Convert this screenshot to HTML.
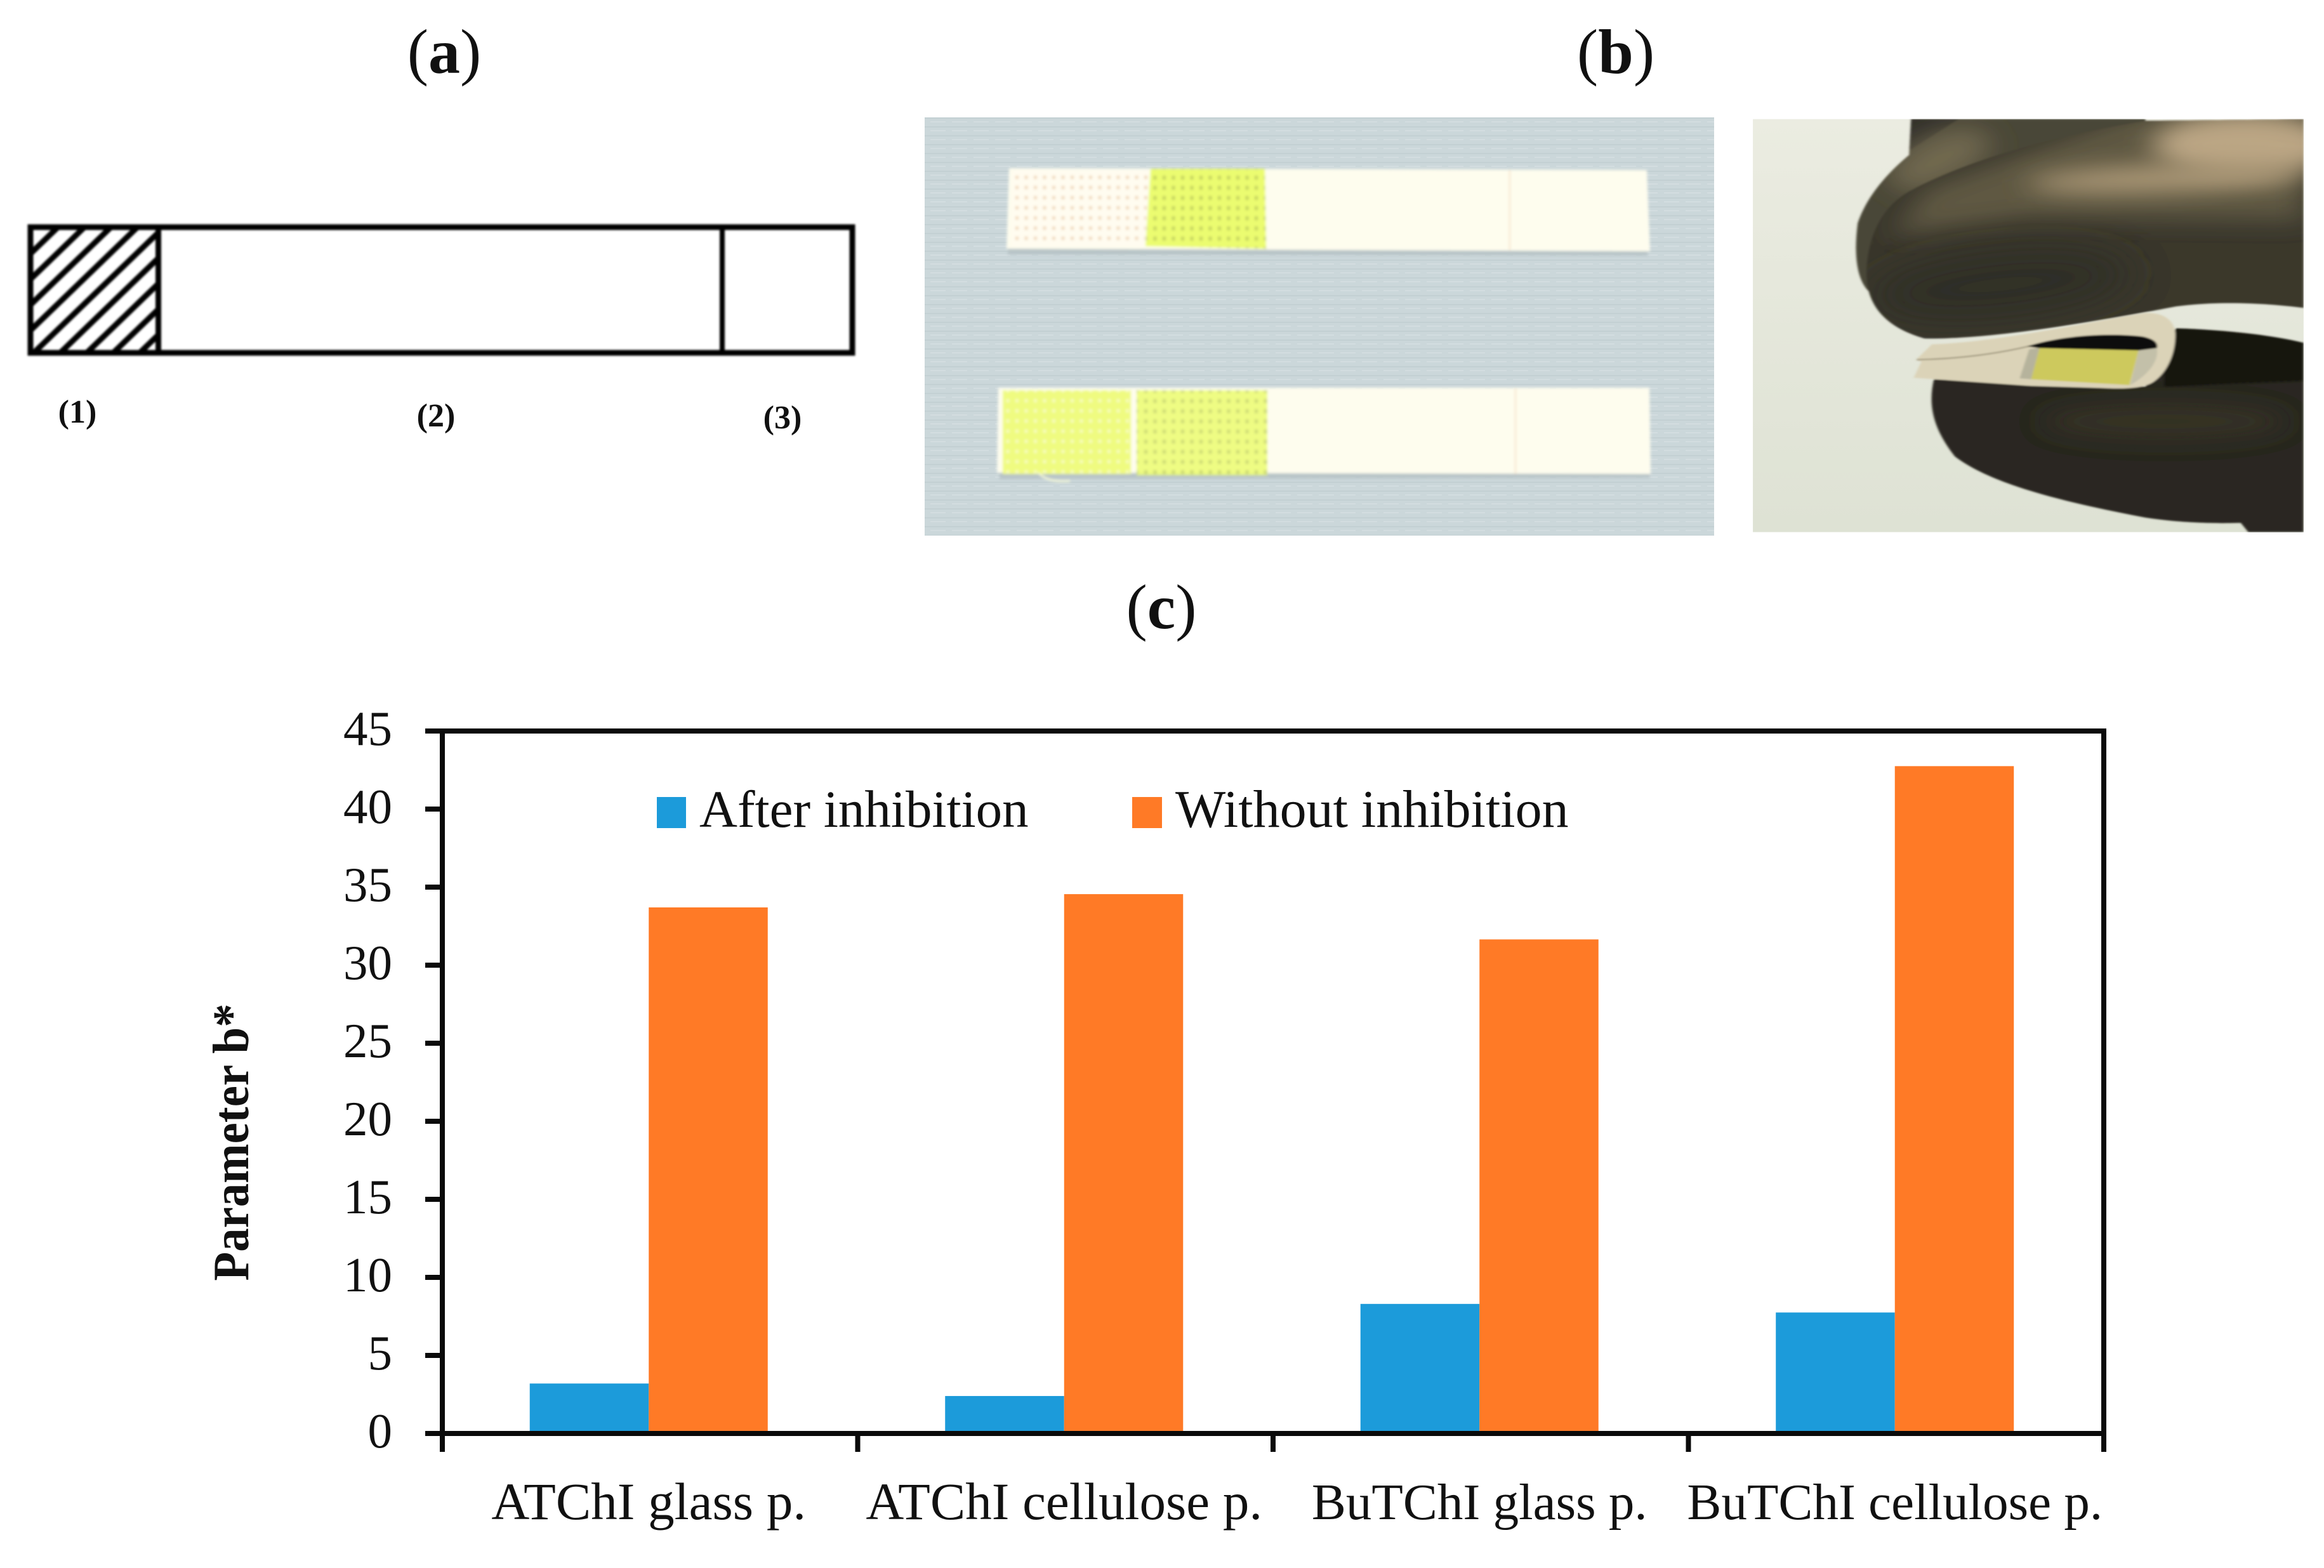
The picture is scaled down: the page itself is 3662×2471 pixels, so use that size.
<!DOCTYPE html>
<html lang="en">
<head>
<meta charset="utf-8">
<title>Test strip schematic, photos and Parameter b* chart</title>
<style>
html,body{margin:0;padding:0;background:#fff;}
svg{display:block;}
text{font-family:"Liberation Serif",serif;fill:#111;}
</style>
</head>
<body>
<svg id="figure" xmlns="http://www.w3.org/2000/svg" width="3662" height="2471" viewBox="0 0 3662 2471">
<defs>
  <pattern id="hatch" width="29" height="29" patternUnits="userSpaceOnUse" patternTransform="translate(53,429) rotate(-44)">
    <rect width="29" height="9" fill="#000"/>
  </pattern>
  <pattern id="linen" width="34" height="14" patternUnits="userSpaceOnUse">
    <rect width="34" height="14" fill="#cbd7da"/>
    <rect y="3" width="34" height="2" fill="#c3d0d3"/>
    <rect y="9" x="4" width="24" height="2" fill="#d3dde0"/>
  </pattern>
  <pattern id="mesh-white" width="14.5" height="16" patternUnits="userSpaceOnUse">
    <rect width="14.5" height="16" fill="#fffcf0"/>
    <rect x="5" y="5" width="5" height="5" fill="#f0d6b8"/>
  </pattern>
  <pattern id="mesh-green" width="14.5" height="16" patternUnits="userSpaceOnUse">
    <rect width="14.5" height="16" fill="#ebfc70"/>
    <rect x="5" y="5" width="5" height="6" fill="#c2d05e"/>
  </pattern>
  <pattern id="mesh-pale" width="14.5" height="16" patternUnits="userSpaceOnUse">
    <rect width="14.5" height="16" fill="#effb80"/>
    <rect x="5" y="5" width="5" height="5" fill="#f7fcc0"/>
  </pattern>
  <filter id="soft" x="-5%" y="-5%" width="110%" height="110%"><feGaussianBlur stdDeviation="1.6"/></filter>
  <filter id="soft-pad" x="-5%" y="-5%" width="110%" height="110%"><feGaussianBlur stdDeviation="2.2"/></filter>
  <filter id="soft-photo" x="-5%" y="-5%" width="110%" height="110%"><feGaussianBlur stdDeviation="3"/></filter>
  <filter id="glow" x="-40%" y="-80%" width="180%" height="260%"><feGaussianBlur stdDeviation="38"/></filter>
  <filter id="glow-wide" x="-40%" y="-80%" width="180%" height="260%"><feGaussianBlur stdDeviation="60"/></filter>
  <clipPath id="hand-clip"><rect x="70" y="82" width="1445" height="1418"/></clipPath>
  <clipPath id="finger-clip"><path d="M1515 82 L1100 88 C850 140 620 230 480 330 C400 390 370 500 368 610 C368 700 400 790 520 835 C700 840 1000 770 1180 725 C1300 705 1420 715 1515 730 Z"/></clipPath>
  <clipPath id="back-clip"><path d="M485 82 L1100 82 L1100 400 L700 800 L380 680 C340 640 335 540 345 440 C370 340 430 260 480 205 Z"/></clipPath>
  <clipPath id="lower-clip"><path d="M545 975 C530 1060 540 1140 600 1240 C700 1340 900 1400 1100 1450 C1200 1470 1300 1470 1350 1468 L1370 1500 L1515 1500 L1515 850 C1400 815 1280 805 1180 800 L1100 1000 Z"/></clipPath>
  <linearGradient id="bg-hand" x1="0" y1="0" x2="0" y2="1">
    <stop offset="0" stop-color="#ebece1"/><stop offset="1" stop-color="#dee2d4"/>
  </linearGradient>
</defs>

<!-- Panel labels -->
<text x="700" y="115" font-size="100" text-anchor="middle">(<tspan font-weight="bold">a</tspan>)</text>
<text x="2546" y="115" font-size="100" text-anchor="middle">(<tspan font-weight="bold">b</tspan>)</text>
<text x="1830" y="990" font-size="100" text-anchor="middle">(<tspan font-weight="bold">c</tspan>)</text>

<!-- Panel a: schematic -->
<g id="schematic" filter="url(#soft)">
  <rect x="48" y="358" width="201" height="198" fill="url(#hatch)"/>
  <rect x="48" y="358" width="1295" height="198" fill="none" stroke="#000" stroke-width="9"/>
  <rect x="245" y="358" width="9" height="198" fill="#000"/>
  <rect x="1134" y="358" width="8" height="198" fill="#000"/>
</g>
<text x="122" y="666" font-size="52" font-weight="bold" text-anchor="middle">(1)</text>
<text x="687" y="672" font-size="52" font-weight="bold" text-anchor="middle">(2)</text>
<text x="1233" y="675" font-size="52" font-weight="bold" text-anchor="middle">(3)</text>

<!-- Panel b: strips photo -->
<g id="strips-photo">
  <rect x="1457" y="185" width="1244" height="659" fill="url(#linen)"/>
  <g filter="url(#soft-pad)">
    <path d="M1588 392 L2595 392 L2597 403 L1588 401 Z" fill="#b8c4c7"/>
    <path d="M1575 745 L2599 745 L2600 753 L1575 755 Z" fill="#b8c4c7"/>
    <path d="M1590 265 L2595 268 L2600 396 L1586 392 Z" fill="#fefdee"/>
    <path d="M1596 268 L1810 268 L1804 388 L1594 388 Z" fill="url(#mesh-white)"/>
    <path d="M1813 266 L1993 266 L1995 392 L1805 388 Z" fill="url(#mesh-green)"/>
    <rect x="2378" y="268" width="2" height="126" fill="#f6e0c8"/>
    <path d="M1573 611 L2599 611 L2601 747 L1571 745 Z" fill="#fefdee"/>
    <rect x="1580" y="615" width="202" height="132" fill="url(#mesh-pale)"/>
    <rect x="1791" y="615" width="206" height="134" fill="url(#mesh-green)" opacity="0.85"/>
    <rect x="2387" y="612" width="2" height="135" fill="#f6e0c8"/>
    <path d="M1636 745 C1646 755 1660 760 1686 758" fill="none" stroke="#f4f8d8" stroke-width="3"/>
  </g>
</g>

<!-- Panel b: hand photo -->
<g id="hand-photo" transform="translate(2720,150) scale(0.6006,0.4591)">
  <g clip-path="url(#hand-clip)">
    <rect x="70" y="82" width="1445" height="1418" fill="url(#bg-hand)"/>
    <g filter="url(#soft-photo)">
      <path d="M485 82 L1100 82 L1100 400 L700 800 L380 680 C340 640 335 540 345 440 C370 340 430 260 480 205 Z" fill="#4a4737"/>
      <g clip-path="url(#back-clip)">
        <path d="M485 82 L610 82 L480 190 Z" fill="#33312a"/>
        <ellipse cx="560" cy="220" rx="150" ry="80" transform="rotate(-35 560 220)" fill="#6f6850" filter="url(#glow)"/>
      </g>
      <path d="M545 975 C530 1060 540 1140 600 1240 C700 1340 900 1400 1100 1450 C1200 1470 1300 1470 1350 1468 L1370 1500 L1515 1500 L1515 850 C1400 815 1280 805 1180 800 L1100 1000 Z" fill="#292820"/>
      <g clip-path="url(#lower-clip)">
        <path d="M1150 790 L1515 840 L1515 980 L1150 1000 Z" fill="#12120a" filter="url(#soft-photo)"/>
        <ellipse cx="1150" cy="1120" rx="320" ry="60" fill="#343326" filter="url(#glow)"/>
      </g>
      <path d="M1515 82 L1100 88 C850 140 620 230 480 330 C400 390 370 500 368 610 C368 700 400 790 520 835 C700 840 1000 770 1180 725 C1300 705 1420 715 1515 730 Z" fill="#3a372c"/>
      <g clip-path="url(#finger-clip)">
        <path d="M1515 60 L1050 70 L520 320 L440 480 L800 420 L1515 430 Z" fill="#5f5843" filter="url(#glow)"/>
        <ellipse cx="1360" cy="170" rx="240" ry="110" fill="#bba684" filter="url(#glow)"/>
        <ellipse cx="1150" cy="285" rx="360" ry="45" transform="rotate(-3 1150 285)" fill="#ad9a78" filter="url(#glow)"/>
        <ellipse cx="720" cy="650" rx="340" ry="110" transform="rotate(-8 720 650)" fill="#2f2e25" filter="url(#glow-wide)"/>
      </g>
      <path d="M498 908 L540 855 C700 850 950 780 1100 748 C1150 745 1175 775 1178 815 C1180 880 1160 950 1120 985 C1090 1010 1030 1008 980 1005 L800 998 L492 970 L512 915 Z" fill="#dbd3b8"/>
      <path d="M500 908 C620 905 720 885 800 860" fill="none" stroke="#a69e84" stroke-width="5"/>
      <path d="M790 862 C880 825 1000 815 1090 828 C1120 835 1135 850 1130 868 L1085 880 L820 868 Z" fill="#0e0e08"/>
      <path d="M795 872 L822 868 L800 975 L770 972 Z" fill="#b6b39c"/>
      <path d="M822 868 L1082 876 L1058 995 L800 975 Z" fill="#cdc95d"/>
      <path d="M1082 876 L1130 868 C1135 900 1120 950 1060 995 Z" fill="#c3c0a9"/>
    </g>
  </g>
</g>

<!-- Panel c: bar chart -->
<g id="chart"></g>
</svg>

<script>
var categories = ["ATChI glass p.", "ATChI cellulose p.", "BuTChI glass p.", "BuTChI cellulose p."];
var afterInhibition = [3.2, 2.4, 8.3, 7.75];
var withoutInhibition = [33.7, 34.55, 31.65, 42.75];
var yTicks = [0, 5, 10, 15, 20, 25, 30, 35, 40, 45];

var NS = 'http://www.w3.org/2000/svg';
var chart = document.getElementById('chart');
var plotLeft = 697, plotRight = 3315, plotTop = 1152, plotBottom = 2259, yMax = 45;
var INK = '#0a0a0a', BLUE = '#1c9bda', ORANGE = '#ff7a26';
var groupWidth = (plotRight - plotLeft) / categories.length;
var barWidth = groupWidth * 0.2865;

function xAxis(i) { return plotLeft + i * groupWidth; }
function yAxis(v) { return plotBottom - (v / yMax) * (plotBottom - plotTop); }

function make(tag, attrs, parent) {
  var el = document.createElementNS(NS, tag);
  for (var k in attrs) { el.setAttribute(k, attrs[k]); }
  (parent || chart).appendChild(el);
  return el;
}

function drawSeries(values, offset, color, name) {
  values.forEach(function (v, i) {
    var center = xAxis(i) + groupWidth / 2 - 2;
    var bar = make('rect', {
      x: center + offset * barWidth,
      y: yAxis(v),
      width: barWidth,
      height: plotBottom - yAxis(v),
      fill: color
    });
    
    
  });
}
drawSeries(afterInhibition, -1, BLUE, 'after-inhibition');
drawSeries(withoutInhibition, 0, ORANGE, 'without-inhibition');

var plotFrame = make('rect', {
  x: plotLeft, y: plotTop, width: plotRight - plotLeft, height: plotBottom - plotTop,
  fill: 'none', stroke: INK, 'stroke-width': 8
});



yTicks.forEach(function (t) {
  var tick = make('line', {
    x1: plotLeft - 27, x2: plotLeft, y1: yAxis(t), y2: yAxis(t),
    stroke: INK, 'stroke-width': 8
  });
  
  
  var label = make('text', {
    x: plotLeft - 79, y: yAxis(t) + 22, 'font-size': 77, 'text-anchor': 'end'
  });
  
  
  label.textContent = t;
});

for (var i = 0; i <= categories.length; i++) {
  var xTick = make('line', {
    x1: xAxis(i), x2: xAxis(i), y1: plotBottom, y2: plotBottom + 29,
    stroke: INK, 'stroke-width': 8
  });
  
  
}

categories.forEach(function (c, i) {
  var label = make('text', {
    x: xAxis(i) + groupWidth / 2 - 2, y: 2394,
    'font-size': c.indexOf('Bu') === 0 ? 81 : 83, 'text-anchor': 'middle'
  });
  
  
  label.textContent = c;
});

var yTitle = make('text', {
  x: 0, y: 0, 'font-size': 80, 'font-weight': 'bold', 'text-anchor': 'middle',
  textLength: 437, lengthAdjust: 'spacingAndGlyphs',
  transform: 'translate(391,1800) rotate(-90)'
});


yTitle.textContent = 'Parameter b*';

var legendBlue = make('rect', { x: 1035, y: 1256, width: 46, height: 49, fill: BLUE });


var legendBlueText = make('text', { x: 1102, y: 1303, 'font-size': 83 });


legendBlueText.textContent = 'After inhibition';

var legendOrange = make('rect', { x: 1784, y: 1256, width: 47, height: 49, fill: ORANGE });


var legendOrangeText = make('text', { x: 1852, y: 1303, 'font-size': 84 });


legendOrangeText.textContent = 'Without inhibition';
</script>
</body>
</html>
